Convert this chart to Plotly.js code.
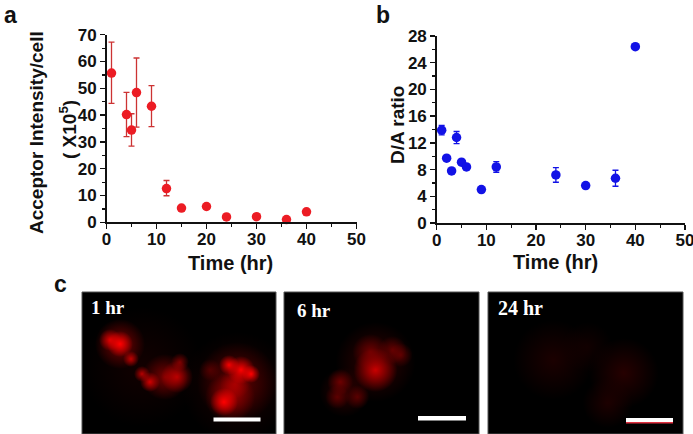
<!DOCTYPE html>
<html><head><meta charset="utf-8">
<script src="https://cdn.plot.ly/plotly-3.0.1.min.js"></script>
<style>html,body{margin:0;padding:0;background:#fff}#c{width:693px;height:434px}</style>
</head><body><div id="c"></div>
<script>
const timeA=[1,4,5,6,9,12,15,20,24,30,36,40];
const intensity=[55.7,40.2,34.4,48.4,43.3,12.6,5.3,5.9,2,2.1,1,3.9];
const intensityUp=[11.5,8.3,6.1,12.9,7.7,3,0,0,0,0,0,0];
const intensityDown=[11.3,8.2,6,12.9,7.6,2.7,0,0,0,0,0,0];
const timeB=[1,2,3,4,5,6,9,12,24,30,36,40];
const ratio=[13.9,9.7,7.8,12.8,9.1,8.4,5.0,8.4,7.2,5.6,6.7,26.4];
const ratioErr=[0.7,0.3,0.3,0.9,0.3,0.3,0.2,0.8,1.1,0.3,1.2,0.3];

// Fluorescence spots: x, y, diameter, red level, opacity
const spots1x=[60,155,155,148,38,28,38,49,60,68,83,95,98,128,153,142,147,159,169];
const spots1y=[75,95,90,105,52,48,52,67,82,90,85,85,70,78,92,110,73,78,82];
const spots1s=[120,110,80,50,50,22,26,16,16,20,46,32,18,22,30,28,20,28,18];
const spots1r=[90,110,170,230,200,255,255,255,255,255,210,255,235,200,235,255,255,255,255];
const spots1o=[.2,.25,.5,.55,.6,.8,1,.7,.7,.8,.55,.65,.5,.3,.4,1,.95,1,1];
const spots2x=[91,60,91,86,108,116,56,53,73];
const spots2y=[70,100,78,60,58,63,90,105,105];
const spots2s=[80,50,44,36,28,24,26,24,24];
const spots2r=[100,90,200,140,130,120,130,120,120];
const spots2o=[.5,.5,1,.7,.7,.7,.8,.7,.7];
const spots3x=[65,135,119,99];
const spots3y=[68,81,111,55];
const spots3s=[80,70,50,50];
const spots3r=[34,42,36,28];
const spots3o=[.8,.9,.8,.6];

const ticksA=[0,10,20,30,40,50,60,70];
const ticksB=[0,4,8,12,16,20,24,28];
const ticksX=[0,10,20,30,40,50];

const W=693,H=434;
const dx=(a,b)=>[a/W,b/W];
const dy=(top,bottom)=>[1-bottom/H,1-top/H];
const sans='"Liberation Sans",Arial,sans-serif';
const tickFont={family:sans,size:17,color:'#111'};
const labelFont={family:sans,size:19,color:'#111'};
const timeFont={family:sans,size:20,color:'#111'};
function plotAxis(domain,range,tickvals,minor,extra){
  return Object.assign({domain,range,tickmode:'array',tickvals,ticktext:tickvals.map(v=>'<b>'+v+'</b>'),
    showgrid:false,zeroline:false,showline:true,linecolor:'#111',linewidth:1.5,ticklabeloverflow:'allow',
    ticks:'outside',ticklen:5,tickwidth:1.5,tickcolor:'#111',tickfont:tickFont,
    minor:{tickmode:'array',tickvals:minor,ticks:'outside',ticklen:3,tickwidth:1.2,tickcolor:'#111',showgrid:false}},extra);
}
function spots(x,y,s,r,o,n){
  return {x,y,xaxis:'x'+n,yaxis:'y'+n,type:'scatter',mode:'markers',hoverinfo:'skip',showlegend:false,
    marker:{size:s,opacity:o,color:r.map(v=>`rgba(${v},0,0,0)`),line:{width:0},
      gradient:{type:'radial',color:r.map(v=>`rgb(${v},0,0)`)}}};
}
function photoAxes(n,xd){
  return {['xaxis'+n]:{domain:xd,range:[0,194],visible:false,fixedrange:true},
          ['yaxis'+n]:{domain:dy(292,434),range:[142,0],visible:false,fixedrange:true,anchor:'x'+n}};
}
const data=[
  spots(spots1x,spots1y,spots1s,spots1r,spots1o,3),
  spots(spots2x,spots2y,spots2s,spots2r,spots2o,4),
  spots(spots3x,spots3y,spots3s,spots3r,spots3o,5),
  {x:timeA,y:intensity,type:'scatter',mode:'markers',showlegend:false,cliponaxis:false,
   marker:{color:'#ec1c24',size:9.5},
   error_y:{type:'data',symmetric:false,array:intensityUp,arrayminus:intensityDown,color:'#cc3333',thickness:1.3,width:3}},
  {x:timeB,y:ratio,xaxis:'x2',yaxis:'y2',type:'scatter',mode:'markers',showlegend:false,cliponaxis:false,
   marker:{color:'#1212e6',size:9.5},
   error_y:{type:'data',array:ratioErr,color:'#1212e6',thickness:1.3,width:3}}
];
function rect(x0,y0,x1,y1,fill,line,layer){
  return {type:'rect',xref:'paper',yref:'paper',x0:x0/W,x1:x1/W,y0:1-y0/H,y1:1-y1/H,fillcolor:fill,
    line:line?{color:line,width:1}:{width:0},layer:layer||'below'};
}
const layout=Object.assign({
  width:W,height:H,margin:{l:0,r:0,t:0,b:0},paper_bgcolor:'#fff',plot_bgcolor:'rgba(0,0,0,0)',showlegend:false,
  xaxis:plotAxis(dx(106.5,356.5),[0,50],ticksX,[5,15,25,35,45],{anchor:'y',ticklabelstandoff:-4}),
  yaxis:plotAxis(dy(34.7,222.3),[0,70],ticksA,[5,15,25,35,45,55,65],{anchor:'x'}),
  xaxis2:plotAxis(dx(436.7,685),[0,50],ticksX,[5,15,25,35,45],{anchor:'y2',ticklabelstandoff:-4}),
  yaxis2:plotAxis(dy(36,223),[0,28],ticksB,[2,6,10,14,18,22,26],{anchor:'x2'}),
  shapes:[
    rect(82,292,276,434,'#000','#555'),
    rect(284,292,479,434,'#000','#555'),
    rect(488,292,683,434,'#000','#555'),
    rect(213.5,417.5,260.5,421.5,'#fff',null,'above'),
    rect(418,416,466,420.5,'#fff',null,'above'),
    rect(626,418,673,422,'#fff',null,'above'),
    rect(626,422,673,423.5,'#e03040',null,'above')
  ],
  annotations:[
    {text:'<b>a</b>',x:2,y:15,font:{family:sans,size:23,color:'#111'}},
    {text:'<b>b</b>',x:374,y:15,font:{family:sans,size:23,color:'#111'}},
    {text:'<b>c</b>',x:52,y:284,font:{family:sans,size:23,color:'#111'}},
    {text:'<b>Acceptor Intensity/cell</b>',x:37,y:133,textangle:-90,xanchor:'center',font:labelFont},
    {text:'<b>( X10<sup>5</sup>)</b>',x:68,y:130,textangle:-90,xanchor:'center',font:labelFont},
    {text:'<b>D/A ratio</b>',x:397,y:125,textangle:-90,xanchor:'center',font:labelFont},
    {text:'<b>Time (hr)</b>',x:230,y:263,xanchor:'center',font:timeFont},
    {text:'<b>Time (hr)</b>',x:555,y:262,xanchor:'center',font:timeFont},
    {text:'<b>1 hr</b>',x:89,y:307,font:{family:'"Liberation Serif",serif',size:19,color:'#fff'}},
    {text:'<b>6 hr</b>',x:295,y:310,font:{family:'"Liberation Serif",serif',size:19,color:'#fff'}},
    {text:'<b>24 hr</b>',x:496,y:308,font:{family:'"Liberation Serif",serif',size:20,color:'#fff'}}
  ].map(a=>Object.assign({xref:'paper',yref:'paper',showarrow:false,xanchor:'left',yanchor:'middle'},a,{x:a.x/W,y:1-a.y/H}))
},photoAxes(3,dx(82,276)),photoAxes(4,dx(284,479)),photoAxes(5,dx(488,683)));
Plotly.newPlot('c',data,layout,{staticPlot:true,displayModeBar:false});
</script></body></html>
